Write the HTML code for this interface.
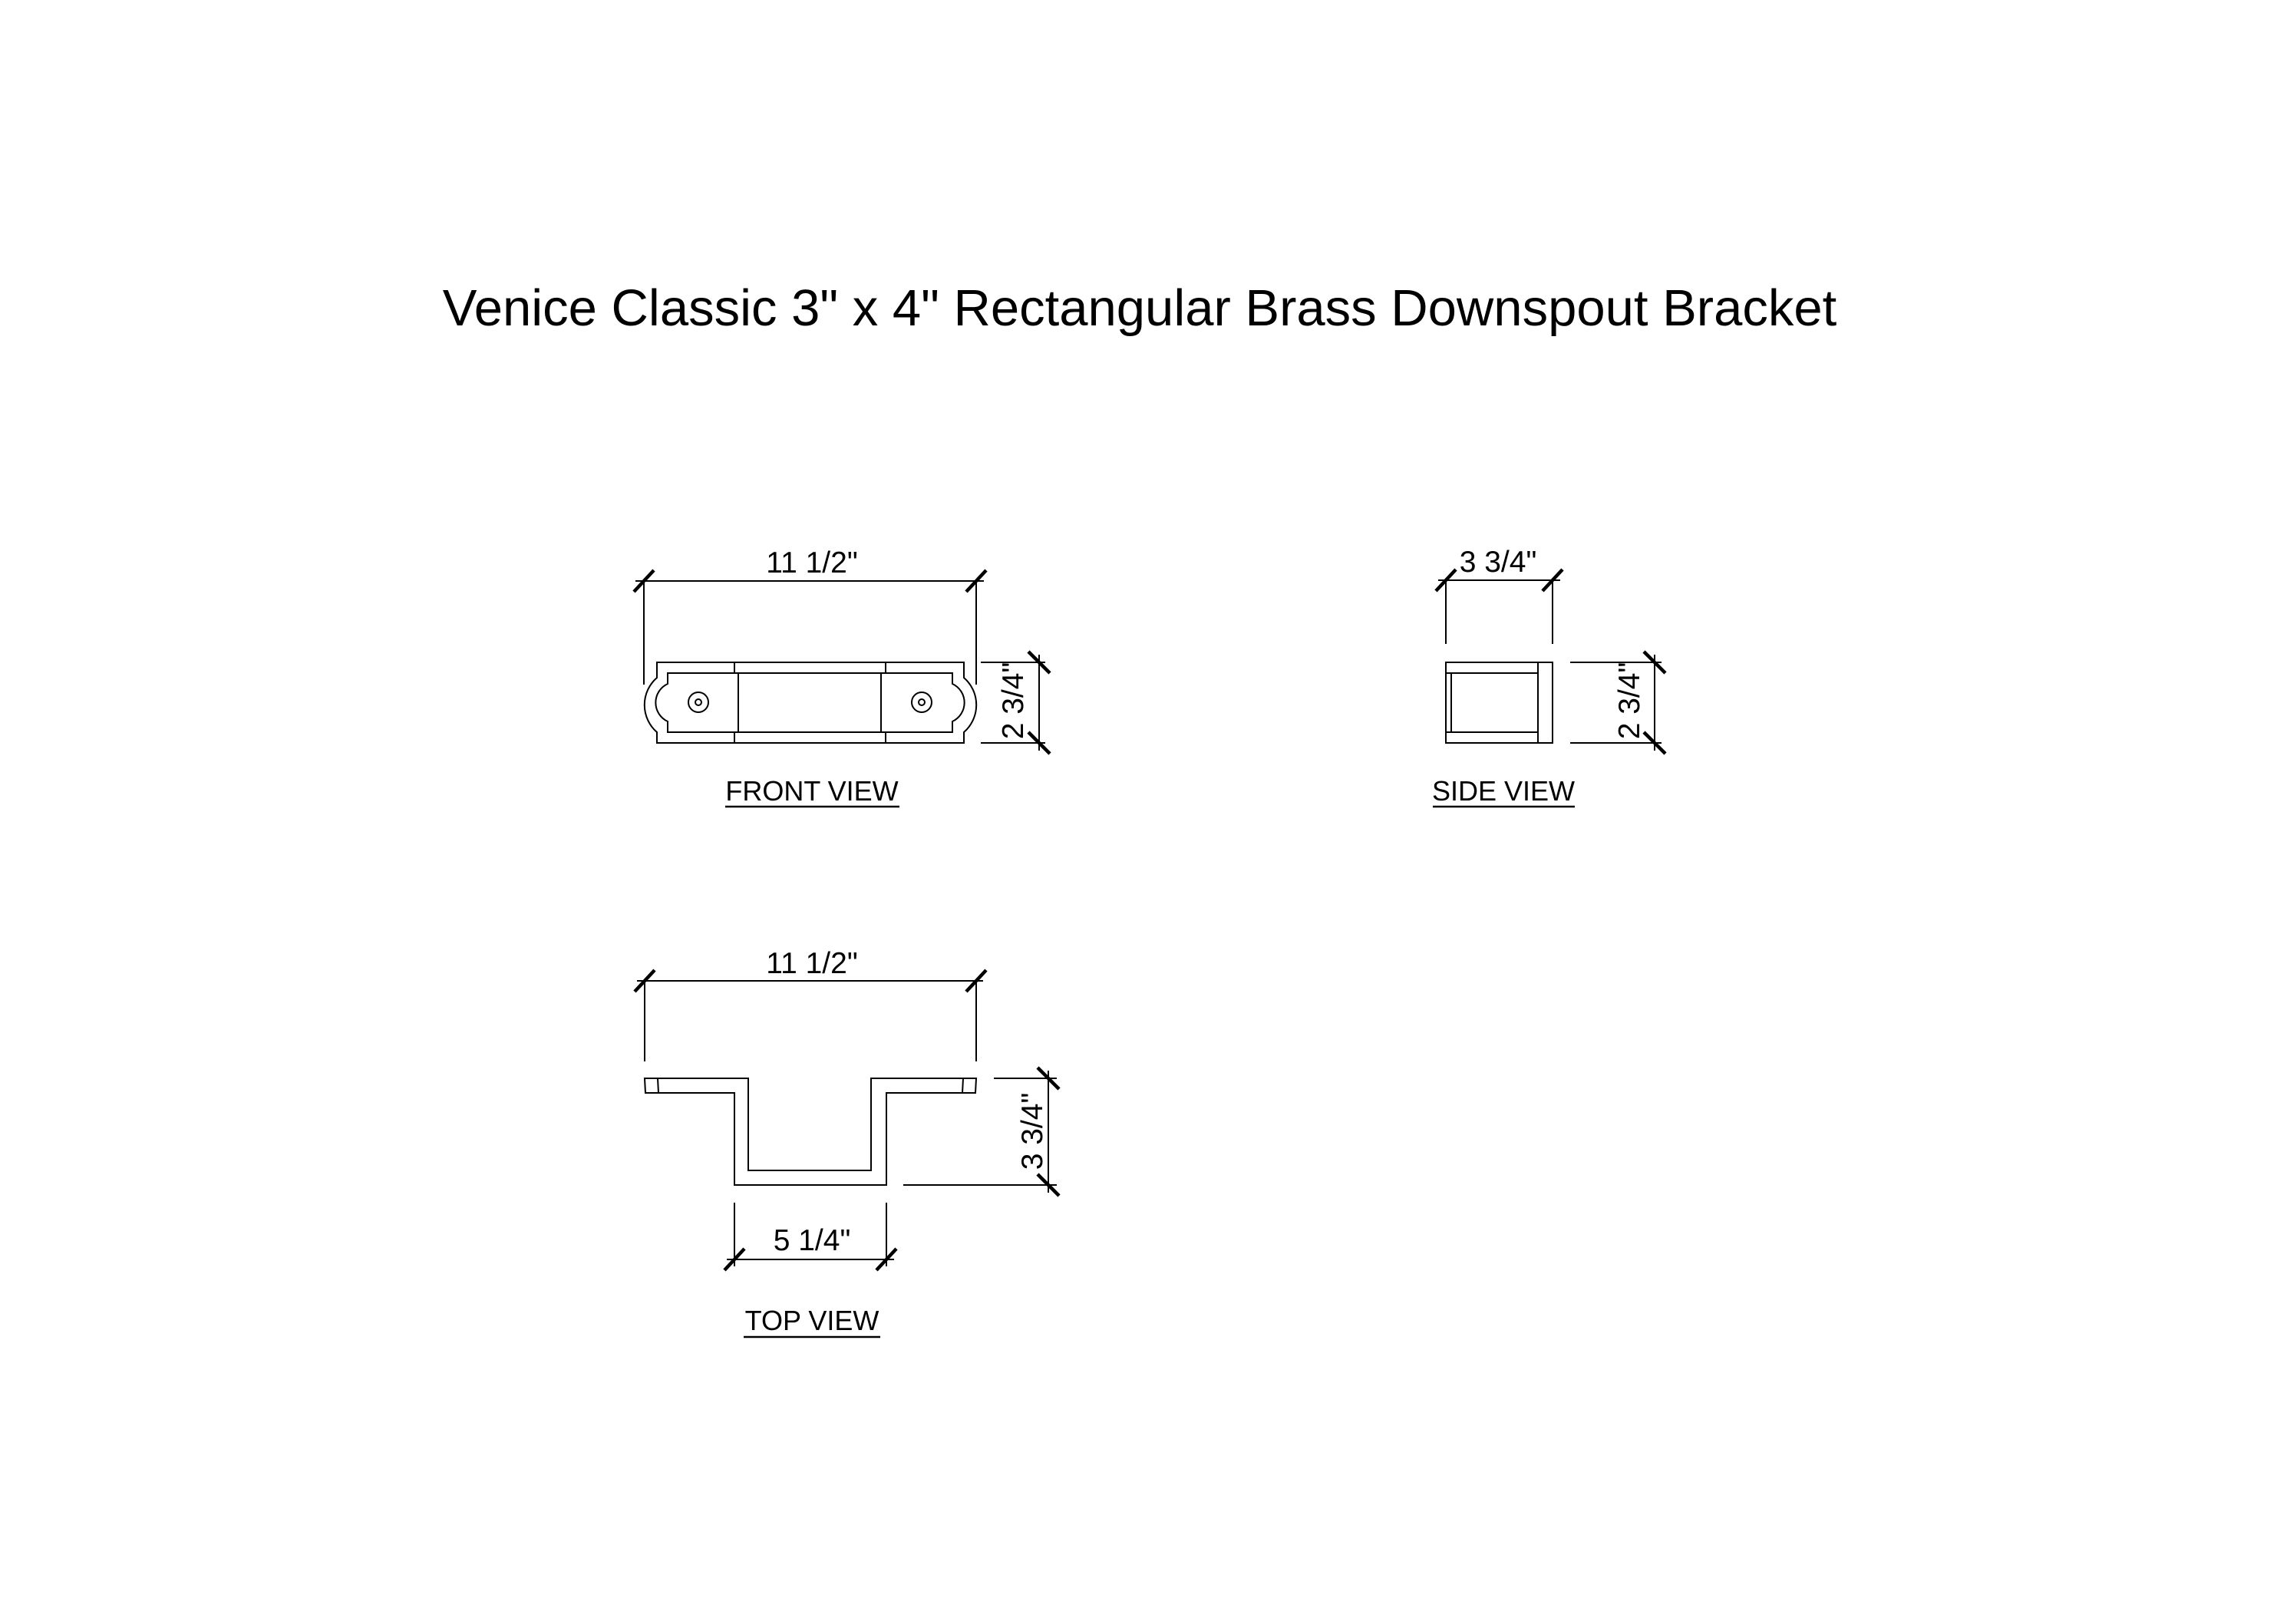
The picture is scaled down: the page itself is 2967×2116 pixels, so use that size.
<!DOCTYPE html>
<html><head><meta charset="utf-8"><style>html,body{margin:0;padding:0;background:#fff}svg{display:block}</style></head>
<body>
<svg width="2967" height="2116" viewBox="0 0 2967 2116" xmlns="http://www.w3.org/2000/svg" font-family="Liberation Sans, sans-serif" fill="none" stroke="#000">
<rect width="2967" height="2116" fill="#fff" stroke="none"/>
<text x="1485" y="424" font-size="67" text-anchor="middle" fill="#000" stroke="none">Venice Classic 3" x 4" Rectangular Brass Downspout Bracket</text>

<g stroke-width="2">
<!-- FRONT VIEW -->
<line x1="828" y1="757" x2="1282" y2="757"/>
<line x1="839" y1="757" x2="839" y2="892"/>
<line x1="1272" y1="757" x2="1272" y2="892"/>
<path d="M856,883 L856,863 L1256,863 L1256,883 A47,47 0 0 1 1256,954 L1256,968 L856,968 L856,954 A47,47 0 0 1 856,883 Z"/>
<path d="M870,877 L1241,877 L1241,891 A27,27 0 0 1 1241,940 L1241,954 L870,954 L870,940 A27,27 0 0 1 870,891 Z"/>
<line x1="962" y1="877" x2="962" y2="954"/>
<line x1="1148" y1="877" x2="1148" y2="954"/>
<line x1="957" y1="863" x2="957" y2="877"/><line x1="957" y1="954" x2="957" y2="968"/>
<line x1="1154" y1="863" x2="1154" y2="877"/><line x1="1154" y1="954" x2="1154" y2="968"/>
<circle cx="910" cy="915" r="13"/><circle cx="910" cy="915" r="4"/>
<circle cx="1201" cy="915" r="13"/><circle cx="1201" cy="915" r="4"/>
<line x1="1278" y1="863" x2="1362" y2="863"/>
<line x1="1278" y1="968" x2="1362" y2="968"/>
<line x1="1354" y1="853" x2="1354" y2="978"/>

<!-- SIDE VIEW -->
<line x1="1874" y1="756" x2="2033" y2="756"/>
<line x1="1884" y1="756" x2="1884" y2="839"/>
<line x1="2023" y1="756" x2="2023" y2="839"/>
<rect x="1884" y="863" width="139" height="105"/>
<line x1="2004" y1="863" x2="2004" y2="968"/>
<line x1="1884" y1="877" x2="2004" y2="877"/>
<line x1="1884" y1="954" x2="2004" y2="954"/>
<line x1="1891" y1="877" x2="1891" y2="954"/>
<line x1="2046" y1="863" x2="2165" y2="863"/>
<line x1="2046" y1="968" x2="2165" y2="968"/>
<line x1="2156" y1="853" x2="2156" y2="978"/>

<!-- TOP VIEW -->
<line x1="830" y1="1278" x2="1281" y2="1278"/>
<line x1="840" y1="1278" x2="840" y2="1383"/>
<line x1="1272" y1="1278" x2="1272" y2="1383"/>
<path d="M840,1405 L975,1405 L975,1525 L1135,1525 L1135,1405 L1272,1405 L1271,1424 L1155,1424 L1155,1544 L957,1544 L957,1424 L841,1424 Z"/>
<line x1="857" y1="1405" x2="858" y2="1424"/>
<line x1="1255" y1="1405" x2="1254" y2="1424"/>
<line x1="1177" y1="1544" x2="1377" y2="1544"/>
<line x1="1295" y1="1405" x2="1377" y2="1405"/>
<line x1="1366" y1="1395" x2="1366" y2="1554"/>
<line x1="957" y1="1567" x2="957" y2="1650"/>
<line x1="1155" y1="1567" x2="1155" y2="1650"/>
<line x1="947" y1="1641" x2="1165" y2="1641"/>
</g>

<!-- ticks -->
<g stroke-width="4.5">
<line x1="826" y1="771" x2="852" y2="743"/>
<line x1="1259" y1="771" x2="1285" y2="743"/>
<line x1="1340" y1="849" x2="1368" y2="877"/>
<line x1="1340" y1="954" x2="1368" y2="982"/>
<line x1="1871" y1="770" x2="1897" y2="742"/>
<line x1="2010" y1="770" x2="2036" y2="742"/>
<line x1="2142" y1="849" x2="2170" y2="877"/>
<line x1="2142" y1="954" x2="2170" y2="982"/>
<line x1="827" y1="1292" x2="853" y2="1264"/>
<line x1="1259" y1="1292" x2="1285" y2="1264"/>
<line x1="1352" y1="1391" x2="1380" y2="1419"/>
<line x1="1352" y1="1530" x2="1380" y2="1558"/>
<line x1="944" y1="1655" x2="970" y2="1627"/>
<line x1="1142" y1="1655" x2="1168" y2="1627"/>
</g>

<g fill="#000" stroke="none" font-size="39" text-anchor="middle">
<text x="1058" y="746">11 1/2"</text>
<text transform="translate(1333,913) rotate(-90)">2 3/4"</text>
<text x="1952" y="745">3 3/4"</text>
<text transform="translate(2136,913) rotate(-90)">2 3/4"</text>
<text x="1058" y="1268">11 1/2"</text>
<text transform="translate(1358,1474) rotate(-90)">3 3/4"</text>
<text x="1058" y="1629">5 1/4"</text>
</g>
<g fill="#000" stroke="none" font-size="36" text-anchor="middle">
<text x="1058" y="1043">FRONT VIEW</text>
<text x="1959" y="1043">SIDE VIEW</text>
<text x="1058" y="1733">TOP VIEW</text>
</g>
<g stroke-width="2.5">
<line x1="945" y1="1051" x2="1172" y2="1051"/>
<line x1="1867" y1="1051" x2="2052" y2="1051"/>
<line x1="969" y1="1742" x2="1147" y2="1742"/>
</g>
</svg>
</body></html>
